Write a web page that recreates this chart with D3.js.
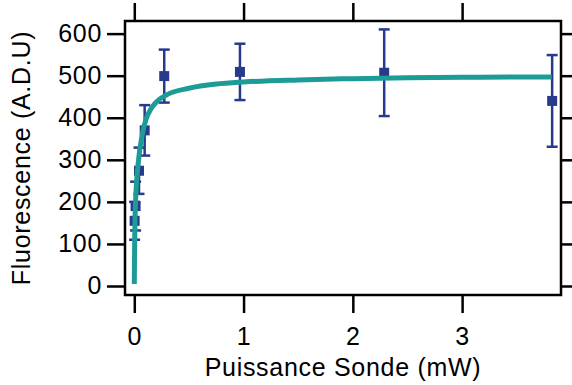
<!DOCTYPE html>
<html>
<head>
<meta charset="utf-8">
<script src="https://cdn.jsdelivr.net/npm/d3@7"></script>
<style>
  body { margin: 0; background: #fff; }
  svg { display: block; font-family: "Liberation Sans", Arial, Helvetica, sans-serif; letter-spacing: 0.7px; }
  .axis path { display: none; }
  .axis line { stroke: #000; stroke-width: 2.5; }
  .axis text { font-size: 25px; fill: #000; }
</style>
</head>
<body>
<div id="chart"></div>
<script>
// Fluorescence vs probe power

const FRAME_WIDTH = 572;
const FRAME_HEIGHT = 385;
const MARGINS = {left: 125, right: 11, top: 21, bottom: 90};

const VIS_WIDTH = FRAME_WIDTH - MARGINS.left - MARGINS.right;
const VIS_HEIGHT = FRAME_HEIGHT - MARGINS.top - MARGINS.bottom;

// measured points (mW, A.D.U) with error bars
const POWER = [0.003, 0.012, 0.043, 0.095, 0.274, 0.967, 2.287, 3.824];
const FLUO = [155, 190, 274, 370, 499, 509, 507, 440];
const FLUO_ERR = [45, 58, 55, 60, 63, 67, 103, 109];

// fitted curve
const FIT_POWER = [0, 0.003, 0.006, 0.01, 0.016, 0.025, 0.037, 0.052, 0.077, 0.11,
                   0.15, 0.2, 0.3, 0.5, 0.75, 1, 1.5, 2, 2.5, 3, 3.5, 3.82];
const FIT_FLUO = [5, 90, 150, 190, 225, 262, 295, 327, 365, 398,
                  420, 437, 455, 470, 480, 485, 490, 493, 495, 496, 497, 497];

const X_TICKS = [0, 1, 2, 3];
const Y_TICKS = [0, 100, 200, 300, 400, 500, 600];

const X_LABEL = "Puissance Sonde (mW)";
const Y_LABEL = "Fluorescence (A.D.U)";

const FRAME = d3.select("#chart")
                .append("svg")
                  .attr("width", FRAME_WIDTH)
                  .attr("height", FRAME_HEIGHT);

const X_SCALE = d3.scaleLinear()
                  .domain([-0.085, 3.905])
                  .range([0, VIS_WIDTH]);

const Y_SCALE = d3.scaleLinear()
                  .domain([-21.4, 630])
                  .range([VIS_HEIGHT, 0]);

const G = FRAME.append("g")
               .attr("transform", "translate(" + MARGINS.left + "," + MARGINS.top + ")");

// axes, ticks outside on all four sides
G.append("g")
  .attr("class", "axis")
  .attr("transform", "translate(0," + VIS_HEIGHT + ")")
  .call(d3.axisBottom(X_SCALE).tickValues(X_TICKS).tickSize(18).tickPadding(14)
          .tickFormat(d3.format("d")));

G.append("g")
  .attr("class", "axis")
  .call(d3.axisTop(X_SCALE).tickValues(X_TICKS).tickSize(18).tickFormat(""));

G.append("g")
  .attr("class", "axis")
  .call(d3.axisLeft(Y_SCALE).tickValues(Y_TICKS).tickSize(18).tickPadding(5)
          .tickFormat(d3.format("d")));

G.append("g")
  .attr("class", "axis")
  .attr("transform", "translate(" + VIS_WIDTH + ",0)")
  .call(d3.axisRight(Y_SCALE).tickValues(Y_TICKS).tickSize(18).tickFormat(""));

// frame
G.append("rect")
  .attr("x", 0)
  .attr("y", 0)
  .attr("width", VIS_WIDTH)
  .attr("height", VIS_HEIGHT)
  .attr("fill", "none")
  .attr("stroke", "#000")
  .attr("stroke-width", 2.5);

const data = POWER.map((p, i) => ({x: p, y: FLUO[i], e: FLUO_ERR[i]}));
const BLUE = "#283a8c";
const CAP = 5.5;

// error bars
const bars = G.selectAll(".err")
  .data(data)
  .enter()
  .append("g")
    .attr("class", "err")
    .attr("stroke", BLUE)
    .attr("stroke-width", 2.5);

bars.append("line")
  .attr("x1", (d) => X_SCALE(d.x))
  .attr("x2", (d) => X_SCALE(d.x))
  .attr("y1", (d) => Y_SCALE(d.y + d.e))
  .attr("y2", (d) => Y_SCALE(d.y - d.e));

bars.append("line")
  .attr("x1", (d) => X_SCALE(d.x) - CAP)
  .attr("x2", (d) => X_SCALE(d.x) + CAP)
  .attr("y1", (d) => Y_SCALE(d.y + d.e))
  .attr("y2", (d) => Y_SCALE(d.y + d.e));

bars.append("line")
  .attr("x1", (d) => X_SCALE(d.x) - CAP)
  .attr("x2", (d) => X_SCALE(d.x) + CAP)
  .attr("y1", (d) => Y_SCALE(d.y - d.e))
  .attr("y2", (d) => Y_SCALE(d.y - d.e));

// square markers
G.selectAll(".point")
  .data(data)
  .enter()
  .append("rect")
    .attr("class", "point")
    .attr("x", (d) => X_SCALE(d.x) - 5)
    .attr("y", (d) => Y_SCALE(d.y) - 5)
    .attr("width", 10)
    .attr("height", 10)
    .attr("fill", BLUE);

// fit curve
const fit = FIT_POWER.map((p, i) => [p, FIT_FLUO[i]]);
G.append("path")
  .datum(fit)
  .attr("fill", "none")
  .attr("stroke", "#1c9b97")
  .attr("stroke-width", 5)
  .attr("d", d3.line()
              .x((d) => X_SCALE(d[0]))
              .y((d) => Y_SCALE(d[1]))
              .curve(d3.curveMonotoneX));

// axis titles
FRAME.append("text")
  .attr("x", MARGINS.left + VIS_WIDTH / 2)
  .attr("y", 376)
  .attr("text-anchor", "middle")
  .attr("font-size", "25px")
  .text(X_LABEL);

FRAME.append("text")
  .attr("transform", "translate(30," + (MARGINS.top + VIS_HEIGHT / 2) + ") rotate(-90)")
  .attr("text-anchor", "middle")
  .attr("font-size", "25px")
  .text(Y_LABEL);
</script>
</body>
</html>
